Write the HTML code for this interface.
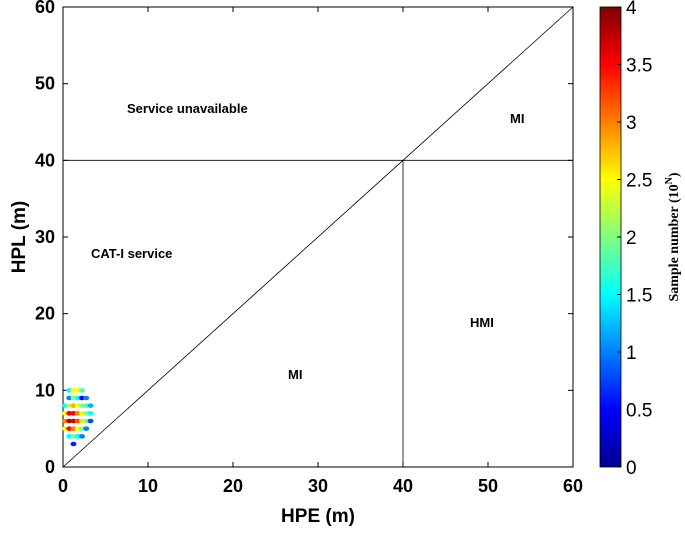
<!DOCTYPE html>
<html><head><meta charset="utf-8"><style>
body{margin:0;background:#fff;width:685px;height:533px;overflow:hidden}
svg{display:block;font-family:"Liberation Sans",Arial,sans-serif}
</style></head><body>
<svg id="chart" width="685" height="533">
<defs><linearGradient id="jet" x1="0" y1="1" x2="0" y2="0">
<stop offset="0" stop-color="#00008f"/><stop offset="0.125" stop-color="#0000ff"/><stop offset="0.375" stop-color="#00ffff"/><stop offset="0.625" stop-color="#ffff00"/><stop offset="0.875" stop-color="#ff0000"/><stop offset="1" stop-color="#800000"/>
</linearGradient></defs>
<g id="plot"></g>
</svg>
<script>
const hpe=[0.5,1,1.5,2, 0.5,1,1.5,2,2.5, 0,0.5,1,1.5,2,2.5,3, 0,0.5,1,1.5,2,2.5,3, 0,0.5,1,1.5,2,2.5,3, 0,0.5,1,1.5,2,2.5, 0.5,1,1.5,2, 1];
const hpl=[10,10,10,10, 9,9,9,9,9, 8,8,8,8,8,8,8, 7,7,7,7,7,7,7, 6,6,6,6,6,6,6, 5,5,5,5,5,5, 4,4,4,4, 3];
const val=[1.5,2.5,2.5,1.8, 1,2,1.5,0.5,1, 1.5,2.3,2.8,2.5,2,1.8,1.2, 2.5,3.6,3.5,3,2.5,2,1.5, 3,3.8,3.7,3.2,2.6,2,0.8, 2.5,3.5,3,2.5,2,1, 1.5,2,1.5,1, 0.6];
const xTicks=[0,10,20,30,40,50,60], yTicks=[0,10,20,30,40,50,60];
const cTicks=[0,0.5,1,1.5,2,2.5,3,3.5,4];
const L=63,R=573,T=7,B=467;
const sx=v=>L+(v/60)*(R-L), sy=v=>B-(v/60)*(B-T);
const NS='http://www.w3.org/2000/svg', g=document.getElementById('plot');
function el(t,a,txt){const e=document.createElementNS(NS,t);for(const k in a)e.setAttribute(k,a[k]);if(txt!=null)e.textContent=txt;g.appendChild(e);return e;}
function jet(v){const t=v/4;const c=x=>Math.max(0,Math.min(1,1.5-Math.abs(4*t-x)));return `rgb(${Math.round(255*c(3))},${Math.round(255*c(2))},${Math.round(255*c(1))})`;}
let e=el('rect',{x:L,y:T,width:R-L,height:B-T,fill:'none',stroke:'#000','stroke-width':1});

e=el('line',{x1:sx(0),y1:sy(0),x2:sx(60),y2:sy(60),stroke:'#000','stroke-width':0.8});

e=el('line',{x1:L,y1:sy(40),x2:R,y2:sy(40),stroke:'#000','stroke-width':0.8});

e=el('line',{x1:sx(40),y1:sy(40),x2:sx(40),y2:B,stroke:'#000','stroke-width':0.8});

xTicks.forEach(v=>{el('line',{x1:sx(v),y1:B,x2:sx(v),y2:B-5,stroke:'#000'});el('line',{x1:sx(v),y1:T,x2:sx(v),y2:T+5,stroke:'#000'});
 e=el('text',{x:sx(v),y:492,'font-size':18,'font-weight':'bold','text-anchor':'middle'},v);});
yTicks.forEach(v=>{el('line',{x1:L,y1:sy(v),x2:L+5,y2:sy(v),stroke:'#000'});el('line',{x1:R,y1:sy(v),x2:R-5,y2:sy(v),stroke:'#000'});
 e=el('text',{x:L-8,y:sy(v)+6,'font-size':18,'font-weight':'bold','text-anchor':'end'},v);});
hpe.forEach((x,i)=>{e=el('ellipse',{cx:sx(x)+2,cy:sy(hpl[i]),rx:3,ry:2.3,fill:jet(val[i])});
 });
const labs=[['Service unavailable',127,113],['MI',510,123],['CAT-I service',91,258],['HMI',470,327],['MI',288,379]];
labs.forEach(l=>{e=el('text',{x:l[1],y:l[2],'font-size':13,'font-weight':'bold'},l[0]);});
e=el('text',{x:318,y:522,'font-size':19,'font-weight':'bold','text-anchor':'middle'},'HPE (m)');
e=el('text',{x:0,y:0,'font-size':19,'font-weight':'bold','text-anchor':'middle',transform:'translate(25,237) rotate(-90)'},'HPL (m)');
const CB=600,CW=21;
e=el('rect',{x:CB,y:T,width:CW,height:B-T,fill:'url(#jet)',stroke:'#000','stroke-width':0.8});
cTicks.forEach(v=>{const y=B-(v/4)*(B-T);el('line',{x1:CB+CW-4,y1:y,x2:CB+CW,y2:y,stroke:'#000'});
 e=el('text',{x:CB+CW+5,y:y+7,'font-size':19},v);});
e=el('text',{x:0,y:0,'font-size':14,'font-weight':'bold','font-family':'Liberation Serif,serif','text-anchor':'middle',transform:'translate(678,237) rotate(-90)'});
e.innerHTML='Sample number (10<tspan dy="-6" font-size="10">N</tspan><tspan dy="6">)</tspan>';

</script>
</body></html>
